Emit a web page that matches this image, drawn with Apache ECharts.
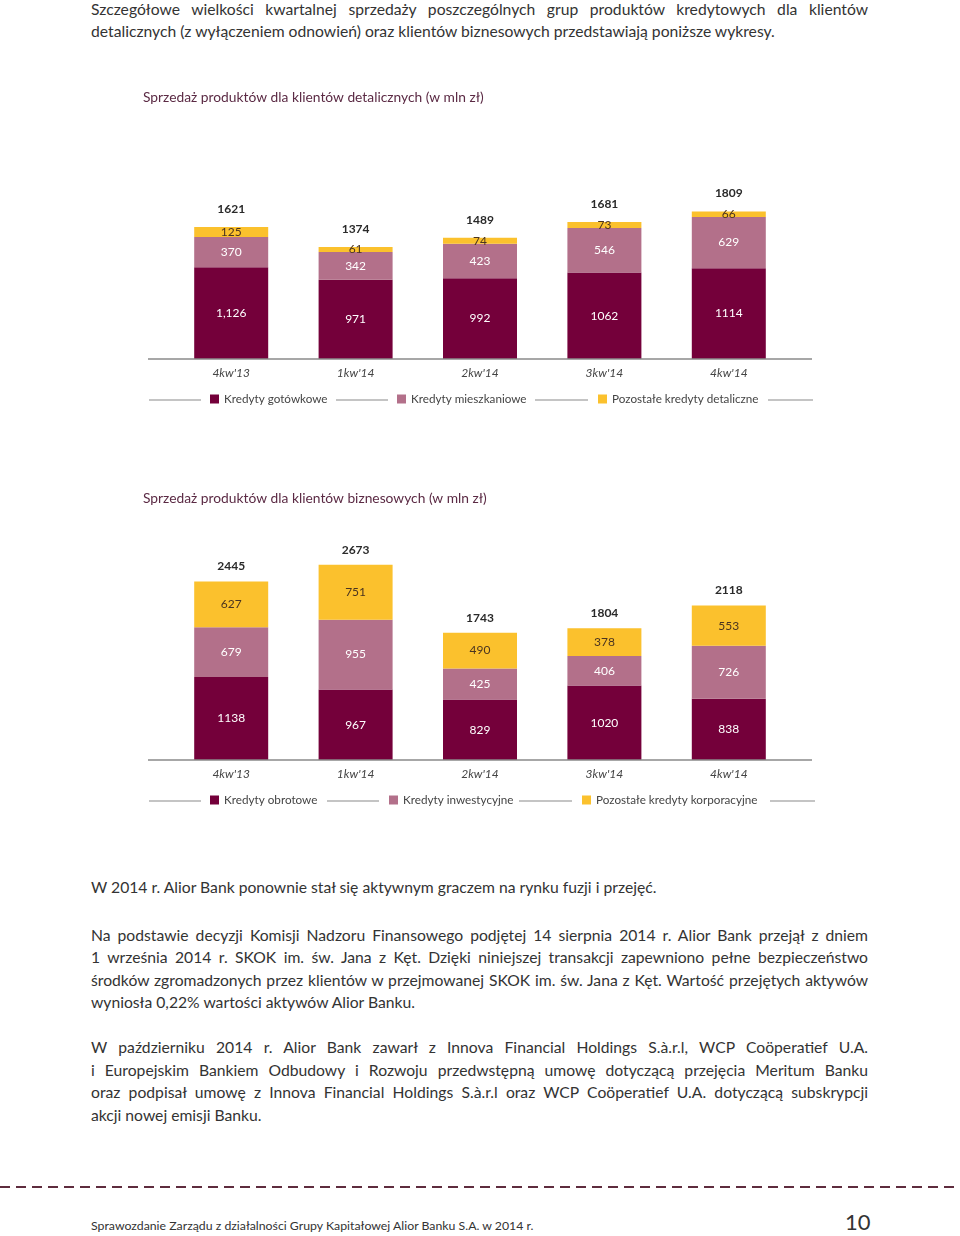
<!DOCTYPE html>
<html><head><meta charset="utf-8">
<script src="https://cdn.jsdelivr.net/npm/echarts@6/dist/echarts.min.js"></script>
<style>
html,body{margin:0;padding:0;background:#fff;}
#page{position:relative;width:960px;height:1236px;overflow:hidden;font-family:Lato,"Open Sans",sans-serif;color:#333;}
.ln{position:absolute;left:91px;width:777px;height:22px;line-height:22px;font-size:15.7px;white-space:nowrap;}
.j{text-align:justify;text-align-last:justify;}
.chart{position:absolute;left:0;width:960px;height:340px;}
</style></head><body>
<div id="page">
  <div class="ln j" style="top:-2px">Szczegółowe wielkości kwartalnej sprzedaży poszczególnych grup produktów kredytowych dla klientów</div>
  <div class="ln" style="top:20px">detalicznych (z wyłączeniem odnowień) oraz klientów biznesowych przedstawiają poniższe wykresy.</div>

  <div id="c1" class="chart" style="top:80px"></div>
  <div id="c2" class="chart" style="top:480px"></div>

  <div class="ln" style="top:876px">W 2014 r. Alior Bank ponownie stał się aktywnym graczem na rynku fuzji i przejęć.</div>
  <div class="ln j" style="top:924px">Na podstawie decyzji Komisji Nadzoru Finansowego podjętej 14 sierpnia 2014 r. Alior Bank przejął z dniem</div>
  <div class="ln j" style="top:946px">1 września 2014 r. SKOK im. św. Jana z Kęt. Dzięki niniejszej transakcji zapewniono pełne bezpieczeństwo</div>
  <div class="ln j" style="top:969px">środków zgromadzonych przez klientów w przejmowanej SKOK im. św. Jana z Kęt. Wartość przejętych aktywów</div>
  <div class="ln" style="top:991px">wyniosła 0,22% wartości aktywów Alior Banku.</div>
  <div class="ln j" style="top:1036px">W październiku 2014 r. Alior Bank zawarł z Innova Financial Holdings S.à.r.l, WCP Coöperatief U.A.</div>
  <div class="ln j" style="top:1059px">i Europejskim Bankiem Odbudowy i Rozwoju przedwstępną umowę dotyczącą przejęcia Meritum Banku</div>
  <div class="ln j" style="top:1081px">oraz podpisał umowę z Innova Financial Holdings S.à.r.l oraz WCP Coöperatief U.A. dotyczącą subskrypcji</div>
  <div class="ln" style="top:1104px">akcji nowej emisji Banku.</div>

  <div style="position:absolute;left:0;top:1186px;width:960px;height:2px;background:repeating-linear-gradient(to right,#5e2c3e 0 10px,transparent 10px 16px);"></div>
  <div style="position:absolute;left:91px;top:1217px;font-size:12.3px;line-height:18px;color:#333;white-space:nowrap;">Sprawozdanie Zarządu z działalności Grupy Kapitałowej Alior Banku S.A. w 2014 r.</div>
  <div style="position:absolute;left:845px;top:1208px;font-size:22px;line-height:28px;color:#333;font-weight:400;">10</div>
</div>
<script>
// ---- data ----
const quarters = ["4kw'13", "1kw'14", "2kw'14", "3kw'14", "4kw'14"];

const retailNames = ['Kredyty gotówkowe', 'Kredyty mieszkaniowe', 'Pozostałe kredyty detaliczne'];
const retailCash = [1126, 971, 992, 1062, 1114];
const retailCashLabels = ['1,126', '971', '992', '1062', '1114'];
const retailMortgage = [370, 342, 423, 546, 629];
const retailOther = [125, 61, 74, 73, 66];
const retailTotals = [1621, 1374, 1489, 1681, 1809];

const businessNames = ['Kredyty obrotowe', 'Kredyty inwestycyjne', 'Pozostałe kredyty korporacyjne'];
const businessWorking = [1138, 967, 829, 1020, 838];
const businessInvest = [679, 955, 425, 406, 726];
const businessOther = [627, 751, 490, 378, 553];
const businessTotals = [2445, 2673, 1743, 1804, 2118];

// ---- styling ----
const COLORS = ['#74003a', '#b3708a', '#fbc12d'];
const FONT = 'Lato, "Open Sans", sans-serif';

function buildOption(cfg) {
  const mkSeries = (name, data, idx, labels) => ({
    name, type: 'bar', stack: 'total', data, barWidth: 74,
    itemStyle: { color: COLORS[idx] },
    label: {
      show: true, position: 'inside', fontSize: 12, fontFamily: FONT,
      color: idx === 2 ? '#4a3420' : '#fff',
      formatter: p => labels ? labels[p.dataIndex] : String(p.value)
    },
    emphasis: { disabled: true }
  });
  const legends = cfg.names.map((n, i) => ({
    data: [n], left: cfg.legendX[i], top: cfg.legendTop, padding: 0,
    itemWidth: 9, itemHeight: 9, icon: 'rect', itemGap: 0,
    textStyle: { fontSize: 11.7, fontFamily: FONT, color: '#444' },
    selectedMode: false
  }));
  const lineY = cfg.legendTop + 7;
  const graphics = [
    { type: 'text', left: 143, top: cfg.titleTop, style: { text: cfg.title, fontSize: 13.8, fontFamily: FONT, fill: '#5b2a44' } },
    { type: 'line', shape: { x1: 148, y1: cfg.baseY, x2: 812, y2: cfg.baseY }, style: { stroke: '#8a8a8a', lineWidth: 1.5 }, z: 10 }
  ];
  cfg.lineSegs.forEach(s => graphics.push({ type: 'line', shape: { x1: s[0], y1: lineY, x2: s[1], y2: lineY }, style: { stroke: '#8a8a8a', lineWidth: 1.2 } }));
  return {
    animation: false,
    textStyle: { fontFamily: FONT },
    legend: legends,
    graphic: graphics,
    grid: { left: 169, right: 169, top: cfg.gridTop, bottom: cfg.gridBottom },
    xAxis: {
      type: 'category', data: quarters,
      axisLine: { show: false }, axisTick: { show: false },
      axisLabel: { margin: 8, fontSize: 12, fontStyle: 'italic', color: '#444', fontFamily: FONT }
    },
    yAxis: { type: 'value', min: 0, max: cfg.yMax, show: false, splitLine: { show: false } },
    series: [
      mkSeries(cfg.names[0], cfg.s1, 0, cfg.s1Labels),
      mkSeries(cfg.names[1], cfg.s2, 1),
      mkSeries(cfg.names[2], cfg.s3, 2),
      {
        name: 'Suma', type: 'bar', data: cfg.totals, barWidth: 74, barGap: '-100%', z: 1,
        itemStyle: { color: 'rgba(0,0,0,0)' }, emphasis: { disabled: true },
        label: { show: true, position: 'top', distance: cfg.totalDist, fontSize: 12, fontWeight: 'bold', color: '#2a2a2a', fontFamily: FONT }
      }
    ]
  };
}

const c1 = echarts.init(document.getElementById('c1'), null, { renderer: 'canvas' });
c1.setOption(buildOption({
  title: 'Sprzedaż produktów dla klientów detalicznych (w mln zł)', titleTop: 11,
  names: retailNames, s1: retailCash, s1Labels: retailCashLabels, s2: retailMortgage, s3: retailOther,
  totals: retailTotals, yMax: 2000, gridTop: 116, gridBottom: 61, baseY: 279,
  legendTop: 313, legendX: [210, 397, 598],
  lineSegs: [[149, 201], [336, 388], [535, 588], [768, 813]], totalDist: 12
}));

const c2 = echarts.init(document.getElementById('c2'), null, { renderer: 'canvas' });
c2.setOption(buildOption({
  title: 'Sprzedaż produktów dla klientów biznesowych (w mln zł)', titleTop: 12,
  names: businessNames, s1: businessWorking, s2: businessInvest, s3: businessOther,
  totals: businessTotals, yMax: 3000, gridTop: 61, gridBottom: 60, baseY: 280,
  legendTop: 314, legendX: [210, 389, 582],
  lineSegs: [[149, 201], [327, 379], [519, 572], [770, 815]], totalDist: 9
}));
</script>
</body></html>
